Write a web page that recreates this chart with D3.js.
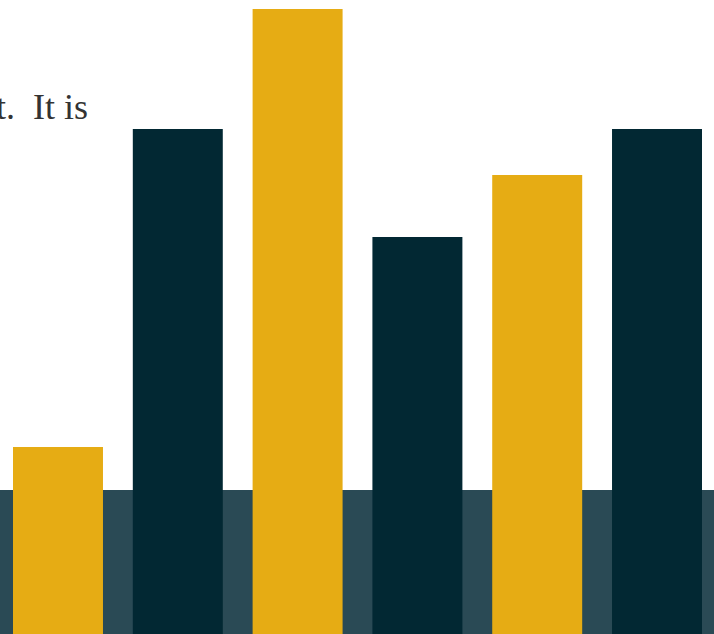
<!DOCTYPE html>
<html><head><meta charset="utf-8">
<script src="https://cdn.jsdelivr.net/npm/d3@7"></script>
<style>html,body{margin:0;padding:0;background:#fff;overflow:hidden}</style>
</head><body>
<svg id="c" width="714" height="634"></svg>
<script>
const categories = ["A","B","C","D","E","F"];
const values = [187, 505, 625, 397, 459, 505];
const groups = ["gold","navy","gold","navy","gold","navy"];
const bandValue = 144;
const captionText = "t.  It is";

const W = 714, H = 634;
const svg = d3.select("#c");
const x = d3.scaleBand().domain(categories).range([13, 702]).paddingInner(0.249).paddingOuter(0);
const y = d3.scaleLinear().domain([0, H]).range([H, 0]);
const color = d3.scaleOrdinal().domain(["gold","navy"]).range(["#e6ac14","#022833"]);

svg.append("rect").attr("x",0).attr("width",W)
  .attr("y", y(bandValue)).attr("height", H - y(bandValue)).attr("fill","#2a4a55");

svg.selectAll("rect.bar").data(categories).enter().append("rect").attr("class","bar")
  .attr("x", d => x(d)).attr("width", x.bandwidth())
  .attr("y", (d,i) => y(values[i])).attr("height", (d,i) => H - y(values[i]))
  .attr("fill", (d,i) => color(groups[i]));

svg.append("text").attr("x", 88).attr("y", 119).attr("text-anchor","end")
  .attr("font-family","'Liberation Serif', 'DejaVu Serif', serif").attr("font-size", 36)
  .attr("fill","#333").attr("xml:space","preserve").style("white-space","pre").text(captionText);
</script>
</body></html>
